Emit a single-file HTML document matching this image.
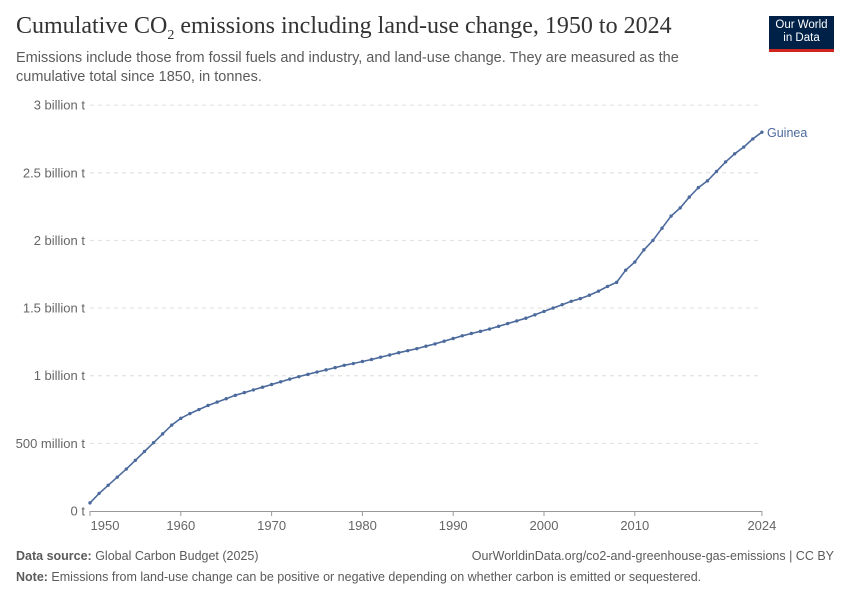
<!DOCTYPE html>
<html><head><meta charset="utf-8"><style>
body{margin:0;background:#fff;font-family:"Liberation Sans",sans-serif;}
.wrap{position:relative;width:850px;height:600px;overflow:hidden}
.t{position:absolute;left:16px;top:13px;font-family:"Liberation Serif",serif;font-size:24px;color:#333;white-space:nowrap;letter-spacing:0px}
.s{position:absolute;left:16px;top:49px;font-size:14.5px;color:#5b5b5b;line-height:19px;width:700px}
.logo{position:absolute;left:769px;top:16px;width:65px;height:36px;background:#002147;border-bottom:3px solid #ce261e;color:#fff;font-size:11.5px;text-align:center;line-height:13px;padding-top:3px;box-sizing:border-box}
.f{position:absolute;font-size:12.5px;color:#5b5b5b}
</style></head><body><div class="wrap">
<div class="t">Cumulative CO<sub style="font-size:14px">2</sub> emissions including land-use change, 1950 to 2024</div>
<div class="s">Emissions include those from fossil fuels and industry, and land-use change. They are measured as the cumulative total since 1850, in tonnes.</div>
<div class="logo">Our World<br>in Data</div>
<svg width="850" height="600" style="position:absolute;left:0;top:0" font-family="Liberation Sans, sans-serif" id="c"></svg>
<div class="f" style="left:16px;top:549px"><b>Data source:</b> Global Carbon Budget (2025)</div>
<div class="f" style="right:16px;top:549px">OurWorldinData.org/co2-and-greenhouse-gas-emissions | CC BY</div>
<div class="f" style="left:16px;top:570px"><b>Note:</b> Emissions from land-use change can be positive or negative depending on whether carbon is emitted or sequestered.</div>
</div>
<script>
var v=[0.06,0.13,0.19,0.25,0.31,0.375,0.44,0.505,0.57,0.635,0.685,0.72,0.75,0.78,0.805,0.83,0.855,0.875,0.895,0.915,0.935,0.955,0.975,0.993,1.01,1.027,1.043,1.06,1.077,1.09,1.105,1.12,1.137,1.153,1.17,1.185,1.2,1.218,1.235,1.255,1.275,1.295,1.312,1.328,1.345,1.365,1.385,1.405,1.425,1.45,1.475,1.5,1.525,1.55,1.57,1.595,1.625,1.66,1.69,1.78,1.84,1.93,2.0,2.09,2.18,2.24,2.32,2.39,2.44,2.51,2.58,2.64,2.69,2.75,2.80];
var X=function(y){return 90+(y-1950)*9.08},Y=function(b){return 511-b*135.3};
var s='';
var yl=['0 t','500 million t','1 billion t','1.5 billion t','2 billion t','2.5 billion t','3 billion t'];
for(var i=0;i<7;i++){var y=Y(i*0.5);
s+='<line x1="90" x2="762" y1="'+y+'" y2="'+y+'" stroke="#ddd" stroke-dasharray="4,4" '+(i==0?'stroke-opacity="0"':'')+'/>';
s+='<text x="85" y="'+(y+4.5)+'" text-anchor="end" font-size="13" fill="#666">'+yl[i]+'</text>';}
s+='<line x1="90" x2="762" y1="511.5" y2="511.5" stroke="#999"/>';
[[1950,105],[1960],[1970],[1980],[1990],[2000],[2010],[2024]].forEach(function(a){var x=X(a[0]);
s+='<line x1="'+x+'" x2="'+x+'" y1="511" y2="516" stroke="#999"/>';
s+='<text x="'+(a[1]||x)+'" y="530" text-anchor="middle" font-size="13" fill="#666">'+a[0]+'</text>';});
var p='';for(var i=0;i<v.length;i++){p+=(i?'L':'M')+X(1950+i).toFixed(1)+','+Y(v[i]).toFixed(1);}
s+='<path d="'+p+'" fill="none" stroke="#4c6a9c" stroke-width="1.6"/>';
for(var i=0;i<v.length;i++)s+='<circle cx="'+X(1950+i)+'" cy="'+Y(v[i])+'" r="1.7" fill="#4c6a9c"/>';
s+='<text x="767" y="137" font-size="12.5" fill="#4c6a9c">Guinea</text>';
document.getElementById('c').innerHTML=s;
</script></body></html>
